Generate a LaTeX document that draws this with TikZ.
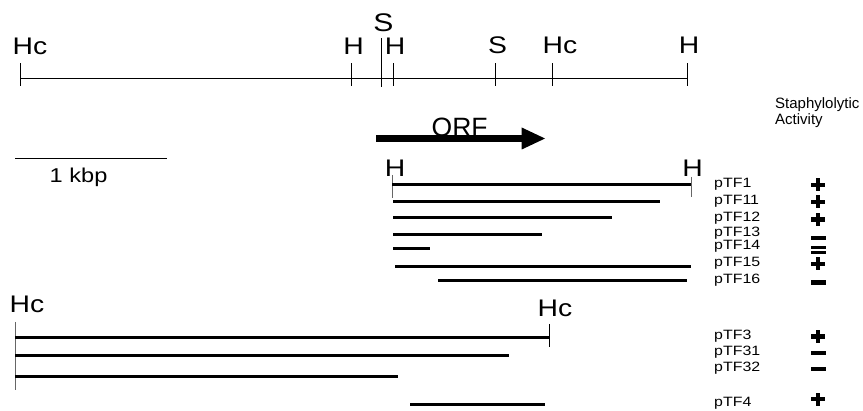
\documentclass[tikz,border=0pt]{standalone}
\usepackage{fontspec}
\setmainfont{Liberation Sans}
\newfontfamily\widesans{Liberation Sans}[FakeStretch=1.18]

\tikzset{
  maplbl/.style={inner sep=0pt, font=\widesans\fontsize{24}{27}\selectfont},
  clonelbl/.style={inner sep=0pt, anchor=base west, font=\widesans\fontsize{13.5}{15}\selectfont},
  frag/.style={line width=3pt},
  mapline/.style={line width=1pt},
  tickmark/.style={line width=0.9pt},
  fragtick/.style={line width=0.8pt, black!60},
  plussign/.pic={\fill (-7,-2.2) rectangle (7,2.2); \fill (-2.2,-6.5) rectangle (2.2,6.5);},
  minussign/.pic={\fill (-7.5,-2.3) rectangle (7.5,2.3);},
  doubleminus/.pic={\fill (-7.5,-3.6) rectangle (7.5,-0.8); \fill (-7.5,0.8) rectangle (7.5,3.6);}
}

\begin{document}
\begin{tikzpicture}[x=1pt, y=-1pt]
\useasboundingbox (0,0) rectangle (863,411);

% ---- restriction map ----
\draw[mapline] (20.7,79) -- (687,79);
\foreach \x in {20.7, 351.7, 393, 495, 552, 687}
  \draw[tickmark] (\x,63.5) -- (\x,86.5);
\draw[tickmark] (381.5,38) -- (381.5,87);

\node[maplbl, anchor=base west] (hcA) at (12.5,54.5) {Hc};
\node[maplbl, anchor=base] (hA) at (353.5,54.5) {H};
\node[maplbl, anchor=base, font=\widesans\fontsize{25.5}{28}\selectfont] (sA) at (383.5,32) {S};
\node[maplbl, anchor=base] (hB) at (395,54.5) {H};
\node[maplbl, anchor=base] (sB) at (497.5,54) {S};
\node[maplbl, anchor=base west] (hcB) at (542.5,54) {Hc};
\node[maplbl, anchor=base] (hC) at (689,54) {H};

% ---- column heading ----
\node[inner sep=0pt, anchor=base west, font=\fontsize{15}{16}\selectfont] (headA) at (775,109) {Staphylolytic};
\node[inner sep=0pt, anchor=base west, font=\fontsize{15}{16}\selectfont] (headB) at (775,124.7) {Activity};

% ---- open reading frame ----
\node[inner sep=0pt, anchor=base west, font=\fontsize{26.5}{28}\selectfont] (orf) at (431.5,137) {ORF};
\fill (376,135.3) rectangle (522.5,141.7);
\fill (521.7,127.5) -- (545,138.5) -- (521.7,149.5) -- cycle;

% ---- scale bar ----
\draw[mapline] (15,159) -- (167,159);
\node[inner sep=0pt, anchor=base west, font=\widesans\fontsize{20}{22}\selectfont] (kbp) at (49.5,183) {1 kbp};

% ---- HindIII fragment clones ----
\node[maplbl, anchor=base] (hD) at (395,176.7) {H};
\node[maplbl, anchor=base] (hE) at (692.5,176.7) {H};
\draw[fragtick] (392,175) -- (392,198);
\draw[fragtick] (691,177) -- (691,197);

\draw[frag] (392,185) -- (691,185);
\draw[frag] (393,201.7) -- (660,201.7);
\draw[frag] (393,217.7) -- (612,217.7);
\draw[frag] (393,234.3) -- (542,234.3);
\draw[frag] (393,248.7) -- (430,248.7);
\draw[frag] (395,266.7) -- (691,266.7);
\draw[frag] (438,281) -- (687,281);

\node[clonelbl] (c1)  at (714,188)   {pTF1};
\node[clonelbl] (c11) at (714,205)   {pTF11};
\node[clonelbl] (c12) at (714,221.5) {pTF12};
\node[clonelbl] (c13) at (714,237)   {pTF13};
\node[clonelbl] (c14) at (714,250)   {pTF14};
\node[clonelbl] (c15) at (714,267)   {pTF15};
\node[clonelbl] (c16) at (714,284)   {pTF16};

\pic at (818,185)   {plussign};
\pic at (818,202)   {plussign};
\pic at (818,219.5) {plussign};
\pic at (818,238)   {minussign};
\pic at (818,250)   {doubleminus};
\pic at (818,264)   {plussign};
\pic at (818,282.5) {minussign};

% ---- HincII fragment clones ----
\node[maplbl, anchor=base west] (hcC) at (9.5,313) {Hc};
\node[maplbl, anchor=base west] (hcD) at (537.5,317) {Hc};
\draw[fragtick] (15,322) -- (15,390);
\draw[tickmark] (549.3,324) -- (549.3,347);

\draw[frag] (15,338) -- (549.3,338);
\draw[frag] (15,356) -- (509,356);
\draw[frag] (15,377) -- (398,377);
\draw[frag] (410,405) -- (545,405);

\node[clonelbl] (c3)  at (714,340) {pTF3};
\node[clonelbl] (c31) at (714,356) {pTF31};
\node[clonelbl] (c32) at (714,372) {pTF32};
\node[clonelbl] (c4)  at (714,407) {pTF4};

\pic at (818,336.7) {plussign};
\pic at (818,353)   {minussign};
\pic at (818,369)   {minussign};
\pic at (818,399.3) {plussign};
\end{tikzpicture}
\end{document}
